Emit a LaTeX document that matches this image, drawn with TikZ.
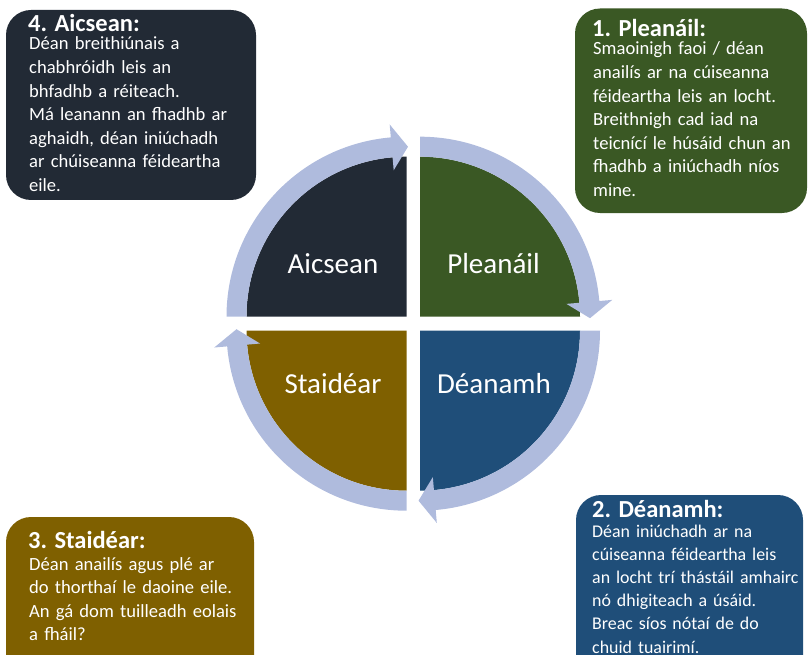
\documentclass[tikz,border=0pt]{standalone}
\usepackage{fontspec}
\setmainfont{Carlito}
\usetikzlibrary{calc}
\definecolor{cdark}{RGB}{34,42,53}
\definecolor{cgreen}{RGB}{58,88,36}
\definecolor{cblue}{RGB}{31,78,121}
\definecolor{cbrown}{RGB}{127,96,0}
\definecolor{cring}{RGB}{175,187,221}
\tikzset{
  boxshape/.style={rounded corners=25pt},
  titletext/.style={anchor=base west, inner sep=0pt, text=white, font=\fontsize{24.5}{28}\selectfont\bfseries},
  bodytext/.style={anchor=base west, inner sep=0pt, text=white, text width=240pt, align=left, font=\fontsize{18.6}{23.6}\selectfont},
  quadlabel/.style={anchor=base, inner sep=0pt, text=white, font=\fontsize{29}{34}\selectfont},
  ringfill/.style={fill=cring}
}
\begin{document}
\begin{tikzpicture}[x=1pt,y=-1pt]
\useasboundingbox (0,0) rectangle (808,655);
\clip (0,0) rectangle (808,655);
% quadrant corners
\coordinate (cTL) at (406.5,316.7);
\coordinate (cTR) at (420,316.7);
\coordinate (cBR) at (420,330.7);
\coordinate (cBL) at (406.5,330.7);
% quadrants
\fill[cdark] (cTL) -- ($(cTL)+(-180:160)$) arc[start angle=-180, end angle=-90, radius=160] -- cycle;
\fill[cgreen] (cTR) -- ($(cTR)+(-90:160)$) arc[start angle=-90, end angle=0, radius=160] -- cycle;
\fill[cblue] (cBR) -- ($(cBR)+(0:160)$) arc[start angle=0, end angle=90, radius=160] -- cycle;
\fill[cbrown] (cBL) -- ($(cBL)+(90:160)$) arc[start angle=90, end angle=180, radius=160] -- cycle;
% ring arrows
\foreach \c/\a in {cTL/-180, cTR/-90, cBR/0, cBL/90}{
  \pgfmathsetmacro{\b}{\a+85}
  \pgfmathsetmacro{\t}{\a+90.5}
  \fill[ringfill] ($(\c)+(\a:160)$) -- ($(\c)+(\a:180)$)
    arc[start angle=\a, end angle=\b, radius=180]
    -- ($(\c)+(\b:193)$) -- ($(\c)+(\t:170)$) -- ($(\c)+(\b:147)$)
    -- ($(\c)+(\b:160)$) arc[start angle=\b, end angle=\a, radius=160] -- cycle;
}
% quadrant labels
\node[quadlabel] (lA) at (333,273) {Aicsean};
\node[quadlabel] (lP) at (493.5,273) {Pleanáil};
\node[quadlabel] (lS) at (333,393) {Staidéar};
\node[quadlabel] (lD) at (494,393) {Déanamh};
% box 4
\fill[cdark, boxshape] (6,10) rectangle (256,200);
\node[titletext] (t4) at (28,32) {4. Aicsean:};
\node[bodytext] (b4) at (29,50) {Déan breithiúnais a\\chabhróidh leis an\\bhfadhb a réiteach.\\Má leanann an fhadhb ar\\aghaidh, déan iniúchadh\\ar chúiseanna féideartha\\eile.};
% box 1
\fill[cgreen, boxshape] (575,8.5) rectangle (807,213);
\node[titletext] (t1) at (592,37) {1. Pleanáil:};
\node[bodytext] (b1) at (593,55) {Smaoinigh faoi / déan\\anailís ar na cúiseanna\\féideartha leis an locht.\\Breithnigh cad iad na\\teicnící le húsáid chun an\\fhadhb a iniúchadh níos\\mine.};
% box 3
\fill[cbrown, boxshape] (6,517) rectangle (254,690);
\node[titletext] (t3) at (28,548) {3. Staidéar:};
\node[bodytext] (b3) at (29,570) {Déan anailís agus plé ar\\do thorthaí le daoine eile.\\An gá dom tuilleadh eolais\\a fháil?};
% box 2
\fill[cblue, boxshape] (576,495) rectangle (803,690);
\node[titletext] (t2) at (592,517) {2. Déanamh:};
\node[bodytext, font=\fontsize{17.9}{23.2}\selectfont] (b2) at (592,537) {Déan iniúchadh ar na\\cúiseanna féideartha leis\\an locht trí thástáil amhairc\\nó dhigiteach a úsáid.\\Breac síos nótaí de do\\chuid tuairimí.};
\end{tikzpicture}
\end{document}
